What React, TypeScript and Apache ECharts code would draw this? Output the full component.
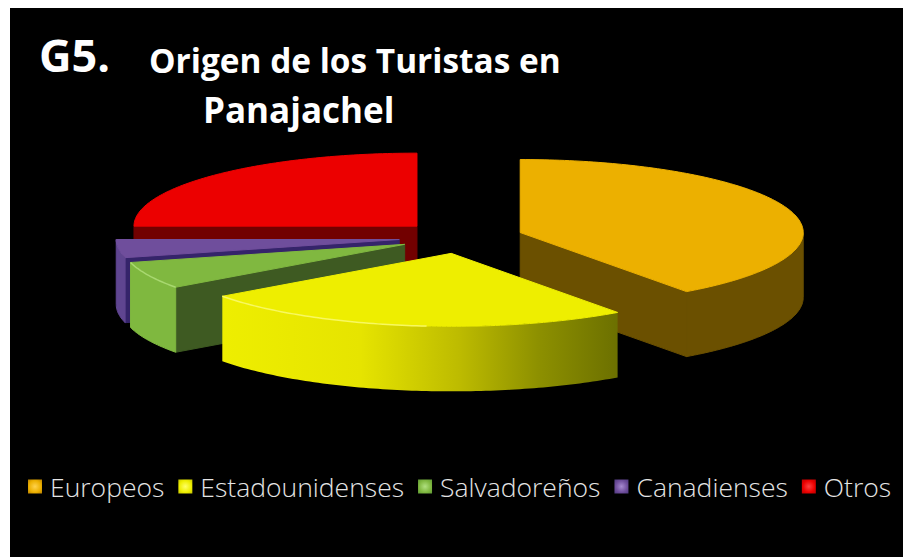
import React, { useEffect, useRef } from "react";
import * as echarts from "echarts";

const categories = ["Europeos", "Estadounidenses", "Salvadoreños", "Canadienses", "Otros"];
const values = [40, 25, 6, 4, 25];
const topColors = ["#ecb000", "#eeee00", "#80b840", "#6f4e9c", "#ec0000"];
const wallColors = ["#6b5000", "#eeee00", "#3e5a22", "#35246a", "#720000"];
const rimColors = ["#6b5000", "#eeee00", "#7fb83f", "#5f4590", "#720000"];
const rimHighlights = ["", "#f8f860", "#a8d870", "", ""];
const markerEdge = ["#b87f00", "#c4c400", "#5f9a35", "#4f3a80", "#b80000"];
const markerCentre = ["#ffd24d", "#ffff66", "#b0e080", "#a68ad0", "#ff4040"];

const W = 893;
const H = 549;
const OX = 10;
const OY = 8;
const CX = 461 - OX;
const CY = 237.5 - OY;
const RX = 283;
const RY = 73;
const EXPLODE = 0.22;
const DEPTH = 65;

const total = values.reduce((a, b) => a + b, 0);
const rad = (t: number) => (t * Math.PI) / 180;

function sliceAngles(i: number) {
  let a = 0;
  for (let k = 0; k < i; k++) a += (values[k] / total) * 360;
  return [a, a + (values[i] / total) * 360];
}

function apex(i: number) {
  const [a0, a1] = sliceAngles(i);
  const mid = (a0 + a1) / 2;
  return [CX + EXPLODE * RX * Math.sin(rad(mid)), CY - EXPLODE * RY * Math.cos(rad(mid))];
}

function makeRender(i: number) {
  return () => {
    const [a0, a1] = sliceAngles(i);
    const [ax, ay] = apex(i);
    const pt = (t: number, d = 0): number[] => [
      ax + RX * Math.sin(rad(t)),
      ay - RY * Math.cos(rad(t)) + d,
    ];
    const arc: number[][] = [];
    const N = Math.max(12, Math.ceil(a1 - a0));
    for (let k = 0; k <= N; k++) arc.push(pt(a0 + ((a1 - a0) * k) / N));

    const children: any[] = [];
    const solid = (fill: any) => ({
      fill,
      stroke: typeof fill === "string" ? fill : undefined,
      lineWidth: typeof fill === "string" ? 1 : 0,
    });
    // radial cut walls
    if (a0 > 180) {
      children.push({
        type: "polygon",
        shape: { points: [[ax, ay], pt(a0), pt(a0, DEPTH), [ax, ay + DEPTH]] },
        style: solid(wallColors[i]),
      });
    }
    if (Math.sin(rad(a1)) > 0) {
      children.push({
        type: "polygon",
        shape: { points: [[ax, ay], pt(a1), pt(a1, DEPTH), [ax, ay + DEPTH]] },
        style: solid(wallColors[i]),
      });
    }
    // outer rim wall
    const front0 = Math.max(a0, 90);
    const front1 = Math.min(a1, 270);
    if (front1 > front0) {
      const up: number[][] = [];
      const down: number[][] = [];
      const M = Math.ceil(front1 - front0);
      for (let k = 0; k <= M; k++) {
        const t = front0 + ((front1 - front0) * k) / M;
        up.push(pt(t));
        down.unshift(pt(t, DEPTH));
      }
      const fill =
        i === 1
          ? {
              type: "linear",
              x: 0,
              y: 0,
              x2: 1,
              y2: 0,
              colorStops: [
                { offset: 0, color: "#eeee00" },
                { offset: 0.35, color: "#e6e400" },
                { offset: 0.6, color: "#bdbb00" },
                { offset: 0.8, color: "#8d9000" },
                { offset: 1, color: "#6c7000" },
              ],
            }
          : rimColors[i];
      children.push({
        type: "polygon",
        shape: { points: [...up, ...down] },
        style: solid(fill),
      });
    }
    // top face
    children.push({
      type: "polygon",
      shape: { points: [[ax, ay], ...arc] },
      style: solid(topColors[i]),
    });
    // thin bevel highlight along the front of the rim
    if (rimHighlights[i]) {
      const hiEnd = i === 1 ? a0 + (a1 - a0) * 0.45 : a0;
      const hi = arc.filter((_, k) => a0 + ((a1 - a0) * k) / N >= hiEnd);
      children.push({
        type: "polyline",
        shape: { points: hi },
        style: { fill: "none", stroke: rimHighlights[i], lineWidth: 1.5 },
      });
    }
    return { type: "group", children };
  };
}

const bevel = (i: number) => ({
  type: "radial",
  x: 0.5,
  y: 0.5,
  r: 0.7,
  colorStops: [
    { offset: 0, color: markerCentre[i] },
    { offset: 0.6, color: topColors[i] },
    { offset: 1, color: markerEdge[i] },
  ],
});

export default function App() {
  const ref = useRef<HTMLDivElement>(null);
  useEffect(() => {
    const chart = echarts.init(ref.current!, undefined, { renderer: "svg" });
    chart.setOption({
      animation: false,
      backgroundColor: "#000000",
      title: [
        {
          text: "G5.",
          left: 24,
          top: 19,
          textStyle: { color: "#fff", fontFamily: "Open Sans", fontWeight: 700, fontSize: 45 },
        },
        {
          text: "Origen de los Turistas en",
          left: 134,
          top: 30,
          textStyle: { color: "#fff", fontFamily: "Open Sans", fontWeight: 700, fontSize: 33.4 },
        },
        {
          text: "Panajachel",
          left: 188,
          top: 79,
          textStyle: { color: "#fff", fontFamily: "Open Sans", fontWeight: 700, fontSize: 35 },
        },
      ],
      legend: {
        left: 13,
        top: 460,
        itemGap: 14,
        itemWidth: 14,
        itemHeight: 14,
        icon: "rect",
        textStyle: {
          color: "#e4e4e4",
          fontFamily: "Open Sans",
          fontWeight: 300,
          fontSize: 26.5,
          padding: [0, 0, 0, 3],
        },
        data: categories.map((name, i) => ({
          name,
          itemStyle: { color: bevel(i) },
        })),
      },
      series: categories.map((name, i) => ({
        type: "custom",
        name,
        coordinateSystem: "none",
        silent: true,
        z: 2 + apex(i)[1] / 1000,
        itemStyle: { color: topColors[i] },
        renderItem: makeRender(i),
        data: [values[i]],
      })),
    });
    return () => chart.dispose();
  }, []);
  return (
    <div
      ref={ref}
      style={{ position: "absolute", left: OX, top: OY, width: W, height: H }}
    />
  );
}
